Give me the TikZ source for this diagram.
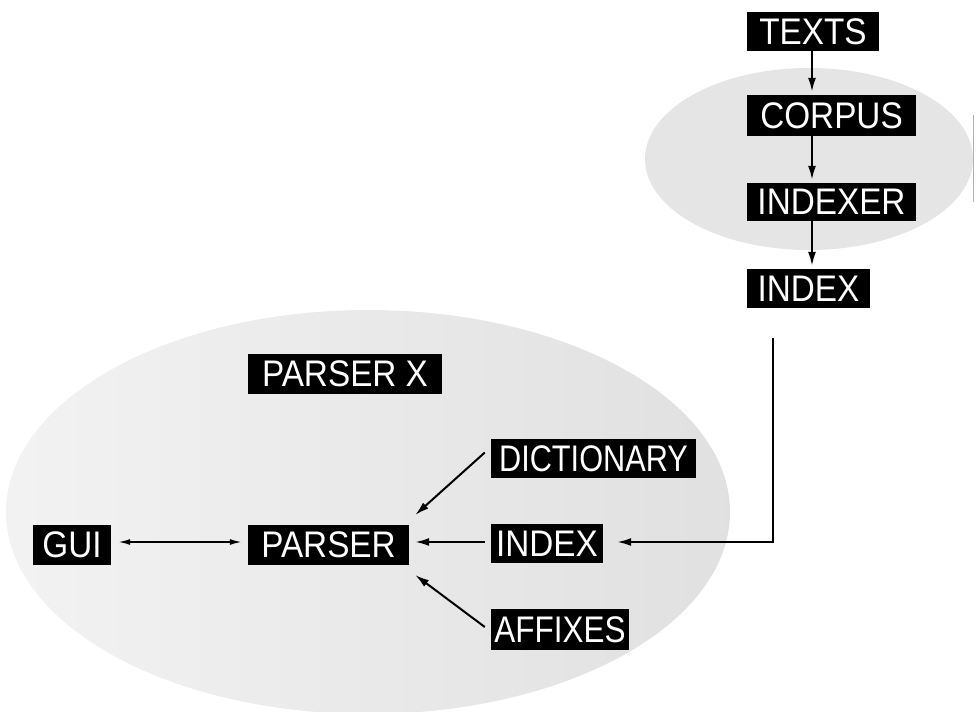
\documentclass[tikz,border=0pt]{standalone}
\usepackage{fontspec}
\setmainfont{Liberation Sans}
\usetikzlibrary{arrows.meta,calc}
\newcommand{\bt}[2][0.9]{\scalebox{#1}[1]{#2}}
\begin{document}
\begin{tikzpicture}[x=1pt,y=-1pt,
  box/.style={fill=black,text=white,inner sep=0pt,anchor=center,
    font=\fontsize{37}{37}\selectfont},
  arr/.style={line width=2pt,-{Latex[length=14pt,width=8pt]}},
  darr/.style={line width=1.6pt,{Latex[length=12pt,width=6pt]}-{Latex[length=12pt,width=6pt]}}]
\useasboundingbox (0,0) rectangle (977,712);
% background clouds
\fill[gray!20] (809,159) ellipse [x radius=164,y radius=91];
\shade[left color=gray!10,right color=gray!24] (368,512) ellipse [x radius=362,y radius=202];
\draw[gray!60,line width=0.8pt] (973,115) -- (973,202);
% top chain
\node[box,minimum width=132,minimum height=39] (texts) at (813,31.5) {\bt{TEXTS}};
\node[box,minimum width=169,minimum height=41] (corpus) at (831.5,115.5) {\bt{CORPUS}};
\node[box,minimum width=169,minimum height=38] (indexer) at (831.5,202) {\bt{INDEXER}};
\node[box,minimum width=123,minimum height=39] (indexa) at (808.5,288.5) {\bt{INDEX}};
% bottom group
\node[box,minimum width=194,minimum height=40] (parserx) at (345,374) {\bt{PARSER X}};
\node[box,minimum width=78,minimum height=40] (gui) at (72,545) {\bt{GUI}};
\node[box,minimum width=161,minimum height=40] (parser) at (328.5,545) {\bt{PARSER}};
\node[box,minimum width=205,minimum height=39] (dict) at (593.5,458.5) {\bt[0.83]{DICTIONARY}};
\node[box,minimum width=112,minimum height=39] (indexb) at (547,543.5) {\bt{INDEX}};
\node[box,minimum width=138,minimum height=41] (affixes) at (560,629.5) {\bt[0.85]{AFFIXES}};
% connectors top
\draw[arr,shorten >=3pt] (texts.south -| 812,0) -- (corpus.north -| 812,0);
\draw[arr,shorten >=3pt] (corpus.south -| 812,0) -- (indexer.north -| 812,0);
\draw[arr,shorten >=3pt] (indexer.south -| 812,0) -- (indexa.north -| 812,0);
% connectors bottom
\draw[darr] ($(gui.east)+(7,-3)$) -- ($(parser.west)+(-6,-3)$);
\draw[arr] ($(dict.west)+(-6,-6)$) -- ($(parser.east)+(6,-30)$);
\draw[arr] ($(indexb.west)+(-6,-1.5)$) -- ($(parser.east)+(6,-3)$);
\draw[arr] ($(affixes.west)+(-6,-2.5)$) -- ($(parser.east)+(6,30)$);
\draw[arr] ($(indexa.south)+(-35.5,30)$) |- ($(indexb.east)+(14,-1.5)$);
\end{tikzpicture}
\end{document}
